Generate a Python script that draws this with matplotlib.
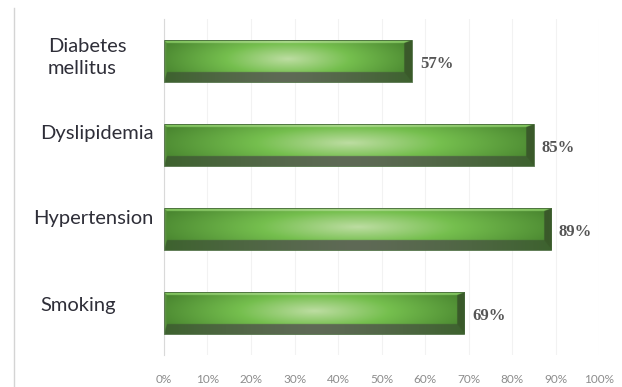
import numpy as np
import matplotlib
matplotlib.use("Agg")
import matplotlib.pyplot as plt
from matplotlib.colors import to_rgb
from matplotlib.lines import Line2D
from matplotlib.transforms import blended_transform_factory

# ---- data (bottom to top) ----
categories = ["Smoking", "Hypertension", "Dyslipidemia", "Diabetes\nmellitus"]
values = [69, 89, 85, 57]
xticks = [0, 10, 20, 30, 40, 50, 60, 70, 80, 90, 100]
tick_labels = [f"{t}%" for t in xticks]

# ---- layout (figure pixels) ----
W, H = 622, 387
label_x_px = [40, 33, 40, 48]      # left edge of each category label
label_dy = [0.09, 0.13, 0.14, 0.04]  # shift of labels above bar centre (data units)
BAR_H = 0.5


def lerp(c1, c2, t):
    c1, c2 = np.array(to_rgb(c1)), np.array(to_rgb(c2))
    t = np.clip(t, 0, 1)[..., None]
    return c1 * (1 - t) + c2 * t


def bar_image(wpx, hpx, n=4):
    """bevelled green bar shading, sampled n times per pixel"""
    nx, ny = max(int(wpx * n), 2), max(int(hpx * n), 2)
    px = (np.arange(nx) + 0.5) / n
    py = (np.arange(ny) + 0.5) / n
    X, Y = np.meshgrid(px, py)          # Y measured from top
    u, v = X / wpx, Y / hpx

    # face: radial highlight in the middle
    r = np.sqrt(((u - 0.5) / 0.5) ** 2 + ((v - 0.45) / 0.75) ** 2)
    face = np.where((r < 0.5)[..., None],
                    lerp("#bddda2", "#75bf4e", r / 0.5),
                    lerp("#75bf4e", "#48842f", (r - 0.5) / 0.6))

    # bevel sizes in px
    T, Bt, L, R = 3.0, 10.0, 3.0, 8.0
    dt, db = Y / T, (hpx - Y) / Bt
    dl, dr = X / L, (wpx - X) / R
    d = np.stack([dt, db, dl, dr])
    which = np.argmin(d, axis=0)
    inside = d.min(axis=0) >= 1

    hu = np.abs(u - 0.5) / 0.5
    bottom = lerp("#5f6a56", "#3d622e", hu ** 1.3)
    top = lerp("#a9d88a", "#7fc25c", hu)
    left = np.broadcast_to(np.array(to_rgb("#558f3a")), face.shape)
    right = np.broadcast_to(np.array(to_rgb("#3a5a2a")), face.shape)

    img = face.copy()
    img[~inside & (which == 0)] = top[~inside & (which == 0)]
    img[~inside & (which == 1)] = bottom[~inside & (which == 1)]
    img[~inside & (which == 2)] = left[~inside & (which == 2)]
    img[~inside & (which == 3)] = right[~inside & (which == 3)]
    return img


fig = plt.figure(figsize=(W / 100, H / 100), dpi=100)
ax = fig.add_axes([164 / W, 1 - 355 / H, (599 - 164) / W, (355 - 19) / H])

y = np.arange(len(categories))
ax.set_xlim(0, 100)
ax.set_ylim(-0.5, len(categories) - 0.5)

bars = ax.barh(y, values, height=BAR_H, color="none", edgecolor="#46683a",
               linewidth=0.6, zorder=3)

# px per data unit
px_x = (599 - 164) / 100.0
px_y = (355 - 19) / len(categories)

for rect, val, yi in zip(bars, values, y):
    img = bar_image(val * px_x, BAR_H * px_y)
    im = ax.imshow(img, extent=(0, val, yi - BAR_H / 2, yi + BAR_H / 2),
                   aspect="auto", interpolation="bilinear", zorder=2)
    im.set_clip_path(rect)
    ax.text(val + 1.8, yi - 0.03, f"{val}%", ha="left", va="center",
            fontsize=12, fontweight="bold", family="Liberation Serif",
            color="#555555", zorder=4)

ax.set_xlim(0, 100)
ax.set_ylim(-0.5, len(categories) - 0.5)

# axes cosmetics
for s in ["top", "right", "bottom"]:
    ax.spines[s].set_visible(False)
ax.spines["left"].set_color("#d9d9d9")
ax.spines["left"].set_linewidth(0.8)
ax.set_xticks(xticks)
ax.set_xticklabels(tick_labels, fontsize=8.5, family="Lato", color="#8c8c8c")
ax.tick_params(axis="x", length=0, pad=14)
ax.set_yticks([])
ax.grid(axis="x", color="#f2f2f2", linewidth=0.8, zorder=0)
ax.set_axisbelow(True)

# category labels
trans = blended_transform_factory(fig.transFigure, ax.transData)
for cat, yi, lx, dy in zip(categories, y, label_x_px, label_dy):
    ax.text(lx / W, yi + dy, cat, transform=trans, ha="left", va="center",
            fontsize=14.5, family="Lato", color="#2e2e38", linespacing=1.35)

# outer chart border on the left
fig.add_artist(Line2D([14 / W, 14 / W], [0, 1 - 8 / H], transform=fig.transFigure,
                      color="#d4d4d4", linewidth=1.0))

fig.savefig("out.png", dpi=100)
